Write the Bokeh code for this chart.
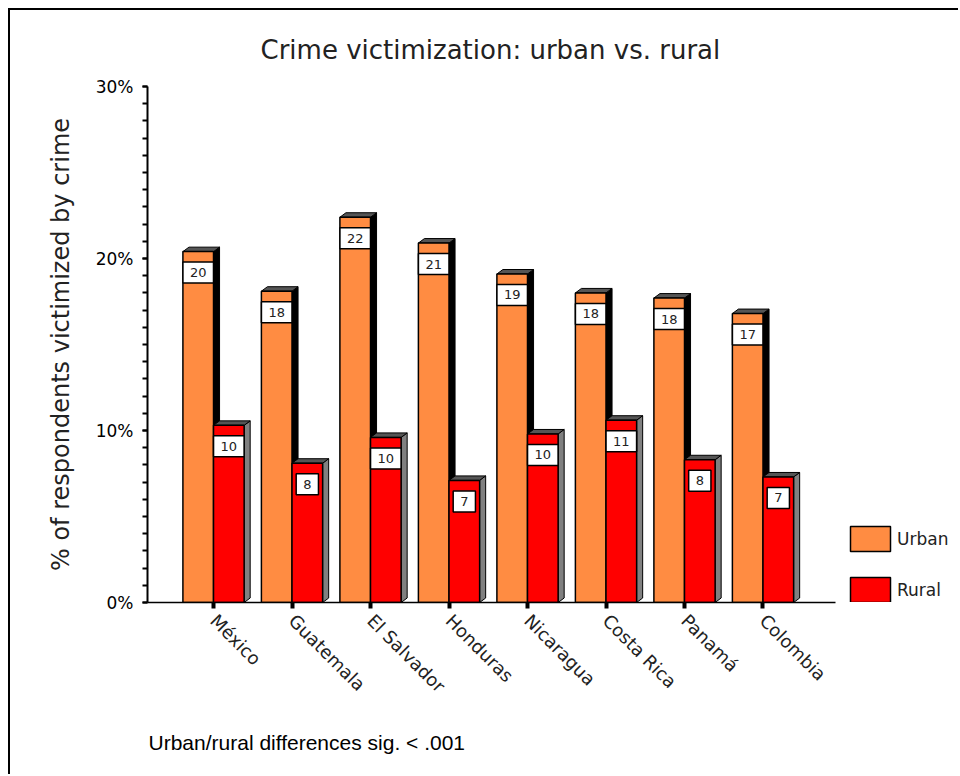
import math
from bokeh.plotting import figure
from bokeh.models import (Range1d, FixedTicker, PrintfTickFormatter, Title,
                          Legend, LegendItem)
from bokeh.core.properties import value
from bokeh.embed import file_html
from bokeh.resources import INLINE

# ---------------- data ----------------
countries = ["México", "Guatemala", "El Salvador", "Honduras",
             "Nicaragua", "Costa Rica", "Panamá", "Colombia"]
urban = [20.4, 18.1, 22.4, 20.9, 19.1, 18.0, 17.7, 16.8]
rural = [10.3, 8.1, 9.6, 7.1, 9.8, 10.6, 8.3, 7.3]
urban_labels = [20, 18, 22, 21, 19, 18, 18, 17]
rural_labels = [10, 8, 10, 7, 10, 11, 8, 7]
y_ticks = [0, 10, 20, 30]
y_minor = list(range(0, 31))
series_names = ["Urban", "Rural"]
title_text = "Crime victimization: urban vs. rural"
y_title = "% of respondents victimized by crime"
note_text = "Urban/rural differences sig. < .001"

# ---------------- style ----------------
URBAN = "#FF8C42"
RURAL = "#FF0000"
CAP = "#555555"
U_SIDE = "#000000"
R_SIDE = "#808080"
BW = 0.39     # bar width (x units)
DX = 0.077    # 3D depth in x units
DY = 0.26     # 3D depth in y units
FONT = "DejaVu Sans"

centers = [i + 1 for i in range(len(countries))]

p = figure(width=950, height=766,
           x_range=Range1d(0.159, 10.516), y_range=Range1d(0, 30),
           output_backend="svg", toolbar_location=None,
           min_border_left=137, min_border_right=0,
           min_border_top=76, min_border_bottom=174,
           styles={"margin-left": "8px", "margin-top": "8px",
                   "border-left": "2px solid black",
                   "border-top": "2px solid black"})
p.outline_line_color = None
p.grid.visible = False
p.background_fill_color = "white"
p.border_fill_color = "white"

# ---------- urban bars (3D) ----------
u_side_xs, u_side_ys, u_top_xs, u_top_ys = [], [], [], []
for c, v in zip(centers, urban):
    u_side_xs.append([c, c + DX, c + DX, c])
    u_side_ys.append([0, DY, v + DY, v])
    u_top_xs.append([c - BW, c - BW + DX, c + DX, c])
    u_top_ys.append([v, v + DY, v + DY, v])
p.patches(u_side_xs, u_side_ys, fill_color=U_SIDE, line_color="black", line_width=1)
p.patches(u_top_xs, u_top_ys, fill_color=CAP, line_color="black", line_width=1)
ru = p.vbar(x=[c - BW / 2 for c in centers], width=BW, top=urban, bottom=0,
            fill_color=URBAN, line_color="black", line_width=1.5)

# ---------- rural bars (3D) ----------
r_side_xs, r_side_ys, r_top_xs, r_top_ys = [], [], [], []
for c, v in zip(centers, rural):
    r_side_xs.append([c + BW, c + BW + DX, c + BW + DX, c + BW])
    r_side_ys.append([0, DY, v + DY, v])
    r_top_xs.append([c, c + DX, c + BW + DX, c + BW])
    r_top_ys.append([v, v + DY, v + DY, v])
p.patches(r_side_xs, r_side_ys, fill_color=R_SIDE, line_color="black", line_width=1)
p.patches(r_top_xs, r_top_ys, fill_color=CAP, line_color="black", line_width=1)
rr = p.vbar(x=[c + BW / 2 for c in centers], width=BW, top=rural, bottom=0,
            fill_color=RURAL, line_color="black", line_width=1.5)

# ---------- value boxes ----------
box_kw = dict(text_align="center", text_baseline="middle", y_offset=21,
              text_font=value(FONT), text_font_size="13px", text_color="#222222",
              background_fill_color="white", border_line_color="black",
              border_line_width=1.5,
              padding=dict(left=7, right=7, top=6, bottom=6))
p.text(x=[c - BW / 2 for c in centers], y=urban,
       text=[str(t) for t in urban_labels], **box_kw)
p.text(x=[c + BW / 2 for c in centers], y=rural,
       text=[str(t) for t in rural_labels], **box_kw)

# ---------- y axis ----------
ya = p.yaxis[0]
ya.ticker = FixedTicker(ticks=y_ticks, minor_ticks=y_minor)
ya.formatter = PrintfTickFormatter(format="%d%%")
ya.bounds = (0, 30)
ya.axis_line_width = 2
ya.major_tick_out = 5
ya.major_tick_in = 0
ya.minor_tick_out = 5
ya.minor_tick_in = 0
ya.major_tick_line_width = 2
ya.minor_tick_line_width = 2
ya.major_label_text_font = FONT
ya.major_label_text_font_size = "17px"
ya.major_label_text_color = "black"
ya.major_label_standoff = 9
ya.axis_label = y_title
ya.axis_label_text_font = FONT
ya.axis_label_text_font_size = "24px"
ya.axis_label_text_font_style = "normal"
ya.axis_label_text_color = "#222222"
ya.axis_label_standoff = 18

# ---------- x axis ----------
xa = p.xaxis[0]
xa.ticker = FixedTicker(ticks=centers)
xa.major_label_overrides = {c: n for c, n in zip(centers, countries)}
xa.major_label_orientation = -math.pi / 4
xa.bounds = (0.159, 8.924)
xa.axis_line_width = 1.5
xa.major_tick_out = 6
xa.major_tick_in = 0
xa.major_tick_line_width = 4
xa.minor_tick_line_color = None
xa.major_label_text_font = FONT
xa.major_label_text_font_size = "18px"
xa.major_label_text_color = "#222222"
xa.major_label_standoff = 9

# ---------- legend ----------
legend = Legend(items=[LegendItem(label=series_names[0], renderers=[ru]),
                       LegendItem(label=series_names[1], renderers=[rr])],
                location=(698, -3), glyph_width=50, glyph_height=31,
                spacing=20, padding=0, margin=0, label_standoff=2,
                label_text_font=FONT, label_text_font_size="17px",
                label_text_color="#222222",
                background_fill_alpha=0, border_line_color=None)
p.add_layout(legend)

# ---------- title & note ----------
p.add_layout(Title(text=title_text, align="left", offset=113, standoff=44,
                   text_font=FONT, text_font_size="26px",
                   text_font_style="normal", text_color="#222222"), "above")
p.add_layout(Title(text=note_text, align="left", offset=1, standoff=44,
                   text_font="Liberation Sans", text_font_size="21px",
                   text_font_style="normal", text_color="black"), "below")

open("out.html", "w").write(file_html(p, INLINE))
